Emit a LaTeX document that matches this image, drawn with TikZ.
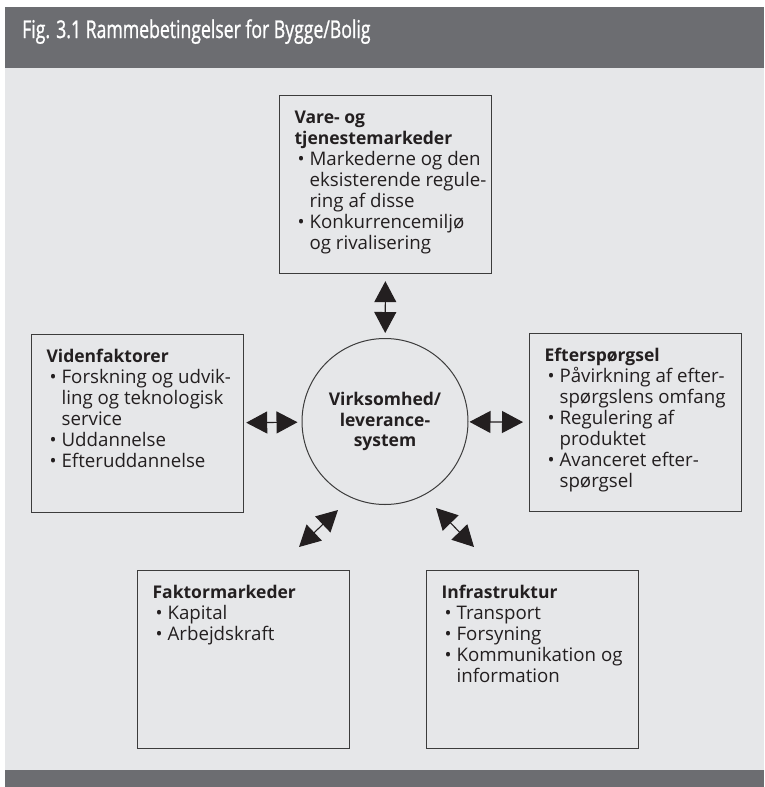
\documentclass[tikz,border=0pt]{standalone}
\usepackage{fontspec}
\setmainfont{Open Sans}
\newfontfamily\titelfont[FakeStretch=0.72,FakeBold=1]{Open Sans}
\usetikzlibrary{arrows.meta}
\definecolor{baand}{RGB}{108,109,113}
\definecolor{flade}{RGB}{230,231,233}
\definecolor{tekst}{RGB}{35,31,32}
\definecolor{kant}{RGB}{60,60,60}
\newcommand{\pkt}{\par\hangindent=15pt\hangafter=1\noindent\makebox[15pt][l]{\hspace{3pt}•}}
\newcommand{\overskrift}[1]{{\fontsize{17.5}{21}\bfseries #1}}
\newcommand{\boksindhold}[1]{\parbox[c][151pt][t]{212pt}{\fontsize{18.7}{21}\selectfont\leftskip=15pt\noindent\rule{0pt}{14pt}#1}}
\tikzset{
  boks/.style={draw=kant,line width=1.2pt,anchor=north west,inner xsep=0pt,inner ysep=13.5pt,text=tekst},
  pil/.style={line width=1.1pt,color=tekst,{Triangle[length=21pt 0 0,width=22pt 0 0]}-{Triangle[length=21pt 0 0,width=22pt 0 0]}}
}
\begin{document}
\begin{tikzpicture}[x=1pt,y=1pt]
\useasboundingbox (0,0) rectangle (764,-787);
\fill[white] (0,0) rectangle (764,-787);
\fill[baand] (5,-7) rectangle (764,-68);
\fill[flade] (5,-68) rectangle (764,-770);
\fill[baand] (5,-770) rectangle (764,-787);

\node[anchor=base west,inner sep=0,text=white] (titel) at (22,-38) {\titelfont\fontsize{24.5}{24.5}\selectfont Fig. 3.1 Rammebetingelser for Bygge/Bolig};

\node[shape=circle,draw=kant,line width=1pt,minimum size=166pt,inner sep=0,text=tekst,align=center,font=\fontsize{17.5}{20.5}\selectfont\bfseries] (virksomhed) at (385,-421.5) {Virksomhed/\\leverance-\\system};

\node[boks] (vare) at (279,-95) {\boksindhold{\overskrift{Vare- og}\\\overskrift{tjenestemarkeder}
\pkt Markederne og den\\eksisterende regule-\\ring af disse
\pkt Konkurrencemiljø\\og rivalisering}};
\node[boks] (viden) at (31,-334) {\boksindhold{\overskrift{Videnfaktorer}
\pkt Forskning og udvik-\\ling og teknologisk\\service
\pkt Uddannelse
\pkt Efteruddannelse}};
\node[boks] (efterspoergsel) at (529,-333) {\boksindhold{\overskrift{Efterspørgsel}
\pkt Påvirkning af efter-\\spørgslens omfang
\pkt Regulering af\\produktet
\pkt Avanceret efter-\\spørgsel}};
\node[boks] (faktor) at (137,-570) {\boksindhold{\overskrift{Faktormarkeder}
\pkt Kapital
\pkt Arbejdskraft}};
\node[boks] (infra) at (426,-570) {\boksindhold{\overskrift{Infrastruktur}
\pkt Transport
\pkt Forsyning
\pkt Kommunikation og\\information}};

\coordinate (fa) at (299,-547);
\coordinate (fb) at (338,-510);
\coordinate (ia) at (436,-508);
\coordinate (ib) at (474,-547);

\path (vare) edge[pil,shorten <=7pt,shorten >=5pt] (virksomhed);
\path (viden) edge[pil,shorten <=2pt,shorten >=4pt] (virksomhed);
\path (virksomhed) edge[pil,shorten <=1pt,shorten >=6pt] (efterspoergsel);
\path (fa) edge[pil] (fb);
\path (ia) edge[pil] (ib);
\end{tikzpicture}
\end{document}
